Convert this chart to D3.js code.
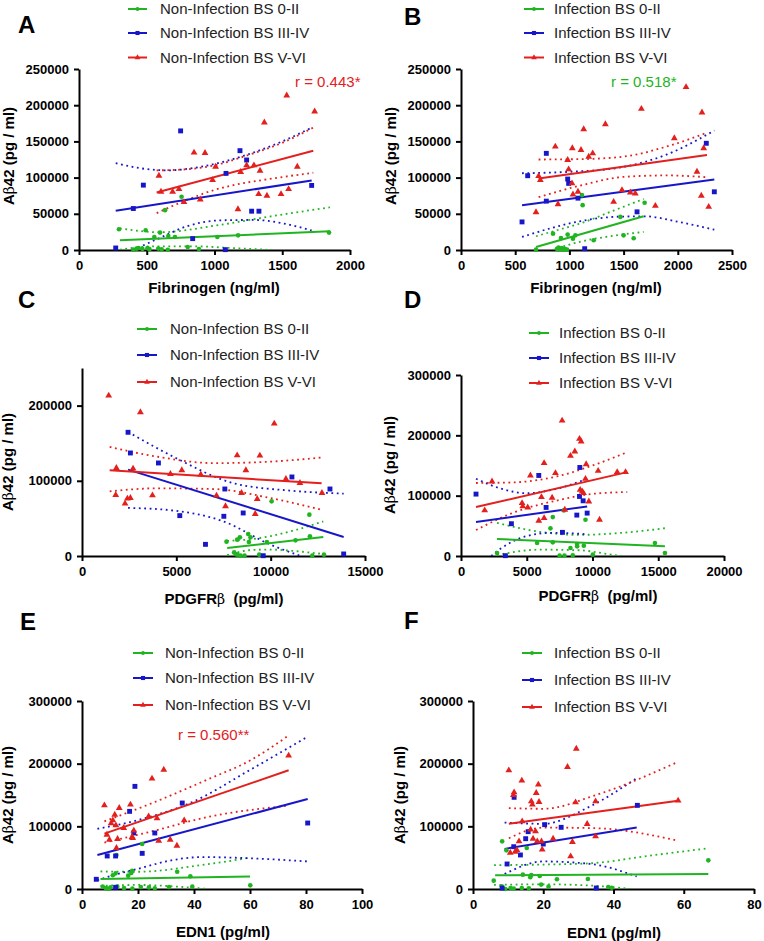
<!DOCTYPE html>
<html><head><meta charset="utf-8">
<script src="https://cdn.jsdelivr.net/npm/d3@7"></script>
<style>body{margin:0;background:#fff}svg{display:block}text{font-family:Arial,"Liberation Sans",sans-serif}</style>
</head><body><svg id="c" width="764" height="941"></svg>
<script>
// ---------------- DATA ----------------
const legendNonInf = ["Non-Infection BS 0-II","Non-Infection BS III-IV","Non-Infection BS V-VI"];
const legendInf = ["Infection BS 0-II","Infection BS III-IV","Infection BS V-VI"];
const yTicksA = [0,50000,100000,150000,200000,250000];
const yTicksC = [0,100000,200000];
const yTicks300 = [0,100000,200000,300000];
const xTicksA = [0,500,1000,1500,2000];
const xTicksB = [0,500,1000,1500,2000,2500];
const xTicksC = [0,5000,10000,15000];
const xTicksD = [0,5000,10000,15000,20000];
const xTicksE = [0,20,40,60,80,100];
const xTicksF = [0,20,40,60,80];

// Panel A
const A_green = [[295,28600],[492,27300],[598,24000],[556,18000],[635,55000],[757,73500],[659,19400],[708,18000],[1021,18000],[1174,20300],[1845,24000],[401,500],[425,1800],[440,2700],[468,1500],[505,2500],[520,1200],[585,2000],[610,800],[655,300],[802,4100],[885,1400]];
const A_blue = [[271,2800],[401,57300],[475,89600],[750,164500],[839,15700],[1085,105800],[1080,500],[1188,137200],[1237,124300],[1274,53600],[1328,53600],[1717,89200]];
const A_red = [[590,102600],[605,80400],[691,80400],[738,84100],[775,66100],[849,134500],[930,134000],[895,69800],[986,96600],[1008,115000],[1173,56400],[1193,107700],[1237,116900],[1291,116900],[1326,77200],[1336,109500],[1368,176100],[1387,74900],[1491,77200],[1533,213500],[1547,84100],[1611,115100],[1739,191300]];
const A_fit = {green:[[302,13400],[1852,25900]], blue:[[271,54100],[1717,96100]], red:[[573,79500],[1729,137200]]};
const A_upper = {green:[[302,30000],[600,24500],[1000,33500],[1400,46000],[1852,59000]],
  blue:[[271,120000],[450,113000],[650,110000],[900,115000],[1262,133000],[1500,150000],[1717,169000]],
  red:[[573,110000],[800,111500],[1000,117000],[1262,132000],[1500,148000],[1729,169000]]};
const A_lower = {green:[[302,500],[550,5000],[850,5000],[1150,2500],[1420,0]],
  blue:[[400,0],[600,17000],[800,33000],[1050,41000],[1300,41500],[1500,37000],[1717,27000]],
  red:[[573,51000],[795,69000],[1000,83000],[1139,89600],[1385,97500],[1729,106700]]};

// Panel B
const B_green = [[692,500],[849,22600],[886,1500],[900,3500],[915,800],[930,2500],[945,500],[960,1200],[978,600],[922,16600],[984,21300],[1055,20300],[1033,15700],[1116,75800],[1122,61900],[1224,13400],[1470,45700],[1500,20300],[1593,16200],[1694,65200]];
const B_blue = [[563,38800],[615,102600],[787,133500],[787,67500],[984,98000],[993,92000],[1079,71600],[1141,1800],[1624,52700],[2263,147400],[2337,80400]];
const B_red = [[692,52200],[716,102100],[732,96600],[870,142800],[895,63300],[984,124300],[993,111400],[1024,92000],[1027,140500],[1033,76700],[1079,80400],[1107,138200],[1132,166800],[1178,128900],[1215,133500],[1332,173700],[1408,66500],[1485,82700],[1562,79500],[1608,78100],[1664,195000],[1793,61000],[1968,154300],[2076,225000],[2177,108100],[2217,74900],[2223,189900],[2239,140500],[2285,59600]];
const B_fit = {green:[[692,4200],[1685,46700]], blue:[[563,61900],[2337,97500]], red:[[716,98900],[2269,131200]]};
const B_upper = {green:[[692,19000],[900,28000],[1116,37500],[1400,54000],[1685,70500]],
  blue:[[563,106000],[1000,108000],[1450,113500],[1900,132000],[2337,165000]],
  red:[[716,125000],[1100,125500],[1500,129000],[1900,143000],[2269,162000]]};
const B_lower = {green:[[850,0],[1000,7500],[1116,12000],[1400,19500],[1685,25000]],
  blue:[[563,18000],[850,31000],[1144,41000],[1450,46000],[1700,46500],[2000,39000],[2337,28000]],
  red:[[716,73000],[1100,89000],[1500,101000],[1900,103000],[2269,100500]]};

// Panel C
const C_green = [[7660,19100],[8225,21700],[8367,24800],[8810,29300],[8933,24800],[8845,18600],[9800,18600],[10050,72700],[11320,20800],[12050,55000],[12080,26200],[8066,4900],[8243,1800],[8403,400],[8615,400],[9393,1800],[12206,400],[12825,1800],[8150,2500]];
const C_blue = [[2441,164500],[2565,137000],[4051,123700],[5183,53700],[6545,15500],[7571,89100],[7518,52800],[8544,57200],[9606,400],[11127,105100],[13143,89100],[13869,2700]];
const C_red = [[1415,213300],[1787,81200],[1822,117100],[2282,69600],[2406,76300],[2565,77200],[2707,116200],[3096,191100],[3733,80700],[4688,109100],[5289,114000],[6297,108200],[7129,80300],[7607,66100],[8225,133900],[8456,83800],[8686,114000],[9287,75800],[9429,133500],[9181,55900],[10190,176100],[10808,102400],[11551,97100],[12719,83800]];
const C_fit = {green:[[7695,10600],[12790,25300]], blue:[[2441,114900],[13869,25300]], red:[[1468,114000],[12701,96700]]};
const C_upper = {green:[[7695,20000],[9000,22500],[10000,26500],[11300,34500],[12790,46000]],
  blue:[[2441,165000],[5000,130000],[8000,97000],[11000,87000],[13869,83000]],
  red:[[1468,145000],[4000,132000],[7000,123500],[10000,125500],[12701,131000]]};
const C_lower = {green:[[7695,1000],[9000,8000],[10000,8500],[11300,6500],[12790,2500]],
  blue:[[2441,64000],[5000,60000],[7500,46000],[10000,15000],[11600,0]],
  red:[[1468,86000],[4000,90000],[7000,89000],[10000,77000],[12701,61500]]};

// Panel D
const D_green = [[2741,5000],[5787,21500],[6802,45800],[6980,64500],[6980,22600],[7817,75600],[7500,500],[7868,500],[8500,1000],[8325,13200],[8832,19900],[8832,16000],[9340,17100],[9467,60100],[10025,2200],[14746,21500],[15508,5000]];
const D_blue = [[1142,102600],[3376,550],[3832,53500],[5914,133500],[6472,80500],[7716,39200],[8807,67800],[9010,98700],[9036,146700],[9289,91500],[9594,71100]];
const D_red = [[1802,75600],[2360,123500],[4645,87700],[4695,82200],[5076,80500],[5279,133500],[5914,58500],[6117,97600],[6320,153900],[6320,62900],[6929,96500],[7183,137300],[7690,224500],[7893,76700],[8325,166000],[8655,173200],[9010,194100],[9137,189700],[9061,109700],[9213,107000],[9315,104200],[9467,127900],[9518,152200],[9721,90400],[10431,141200],[10533,60100],[11878,139000],[12513,139000]];
const D_fit = {green:[[2741,28100],[15508,16000]], blue:[[1142,56300],[9594,82200]], red:[[1142,81100],[12640,139000]]};
const D_upper = {green:[[2741,55000],[6000,40000],[9000,35000],[12000,38000],[15508,46000]],
  blue:[[1142,128000],[3000,112000],[5000,104000],[7000,110000],[9594,128000]],
  red:[[1142,121000],[4000,122000],[7500,133000],[10000,150000],[12640,172000]]};
const D_lower = {green:[[2741,1500],[6000,10500],[9000,9500],[11500,2000],[12200,0]],
  blue:[[2300,0],[3000,12000],[5000,33000],[7000,38500],[9594,36000]],
  red:[[1142,43000],[4000,72000],[7500,93000],[10000,103000],[12640,106000]]};

// Panel E
const E_green = [[7.4,3700],[8.5,1500],[9.5,500],[10.2,2500],[12.6,3700],[15,1500],[18,500],[21,3000],[23.9,2500],[26,1000],[31.1,3000],[39.4,3700],[11,22000],[12,25000],[16.5,21300],[17.6,25500],[17.9,29200],[12.3,54300],[21.5,71800],[34,27600],[38.7,20200],[60.1,5900]];
const E_blue = [[5.1,15500],[9,52700],[12,52700],[12,2700],[17,123900],[18.5,89400],[18.9,163800],[21.5,56900],[26,89400],[35.8,137200],[80.6,105300]];
const E_red = [[8,133500],[8.9,86700],[9.8,78700],[10.4,104800],[11,109600],[11.7,118600],[12.1,101600],[12.3,65400],[12.7,79800],[13.3,129300],[14.9,97300],[17.3,134600],[17.9,83000],[18.1,81400],[18.5,93100],[23.8,116000],[25,176100],[26.8,112800],[27.4,77100],[29.2,190400],[31.5,78700],[33.9,69100],[36.5,109600],[73.8,212800]];
const E_fit = {green:[[6.6,16000],[60,20000]], blue:[[5.5,54300],[80.6,143500]], red:[[8,88300],[73.8,189400]]};
const E_upper = {green:[[6.6,28000],[20,27500],[43,38300],[60,50000]],
  blue:[[5.5,96000],[20,110000],[40,140000],[60,190000],[80.6,243000]],
  red:[[8,108000],[25,137000],[45,175000],[60,205000],[73.8,245000]]};
const E_lower = {green:[[6.6,5000],[20,6500],[35,3500],[45,0]],
  blue:[[5.5,14000],[11.4,22300],[21.5,34000],[30,44000],[43,51000],[60,49000],[80.6,44000]],
  red:[[8,74000],[25,92000],[45,115000],[73.8,133000]]};

// Panel F
const F_green = [[5.9,13300],[8.2,4300],[8.3,76100],[9.5,61700],[9.2,0],[10.7,1600],[11.6,800],[13.9,1500],[14.2,22900],[15.3,65400],[15.9,1000],[16.3,18700],[16.6,22300],[19,20700],[19.4,7000],[21.5,3700],[23.9,15500],[32.7,16000],[38.5,3200],[39.5,2000],[67,45700]];
const F_blue = [[8.3,1500],[9.7,39900],[11.7,146300],[11.6,67500],[13.5,54300],[15,80300],[15.7,91500],[20,71800],[20.4,102700],[25.1,98400],[35.1,1600],[46.8,133500]];
const F_red = [[10.2,189400],[11.5,150000],[11.7,154300],[10.6,57900],[12,59500],[12.5,62000],[13.1,76100],[13.9,172900],[14,108000],[16.4,94700],[16.6,139900],[16.9,134600],[17.1,80300],[17.8,92000],[18.3,76100],[18.6,166500],[18.8,138800],[19.5,76100],[19.7,62800],[18,153200],[22.8,80300],[26.9,194700],[27.8,52100],[28.3,75000],[29.2,138300],[29.4,223900],[32.5,103700],[34.9,84000],[34.9,139900],[58.4,141000]];
const F_fit = {green:[[6.3,22000],[67,24000]], blue:[[9,64000],[46.6,98000]], red:[[10.2,104300],[58.4,141000]]};
const F_upper = {green:[[6,38000],[20,39000],[33.4,41000],[50,53000],[67,65000]],
  blue:[[9,106000],[20,104000],[33.4,132000],[46.6,177000]],
  red:[[10.2,129000],[20,128000],[35,150000],[58.4,203000]]};
const F_lower = {green:[[6,6500],[20,7500],[33.4,5500],[45,0]],
  blue:[[9,24000],[20,44000],[33.4,40000],[46.6,20000]],
  red:[[10.2,81000],[20,98000],[35,97000],[58.4,77000]]};

// ---------------- LAYOUT ----------------
const COLORS = {green:"#20b520", blue:"#1717c9", red:"#e3201d"};
const SERIES = ["green","blue","red"];
const SYMBOLS = {green:d3.symbolCircle, blue:d3.symbolSquare, red:d3.symbolTriangle};
const SIZES = {green:17, blue:24, red:20};

const panels = [
 {id:"A", letter:[18,33], xr:[79,350], yr:[250,69], xd:[0,2000], yd:[0,250000], xt:xTicksA, yt:yTicksA,
  pts:{green:A_green,blue:A_blue,red:A_red}, fit:A_fit, up:A_upper, lo:A_lower, legend:legendNonInf,
  leg:{x0:128,x1:147,tx:160,rows:[9,33,57.5]}, xtitle:["Fibrinogen (ng/ml)",null], xtpos:[214,293], ytpos:[14,156],
  r:{text:"r = 0.443*",x:295,y:87,c:"red"}},
 {id:"B", letter:[404,25], xr:[461,732], yr:[250,69], xd:[0,2500], yd:[0,250000], xt:xTicksB, yt:yTicksA,
  pts:{green:B_green,blue:B_blue,red:B_red}, fit:B_fit, up:B_upper, lo:B_lower, legend:legendInf,
  leg:{x0:524,x1:544,tx:554,rows:[9,33,57.5]}, xtitle:["Fibrinogen (ng/ml)",null], xtpos:[596,293], ytpos:[396,156],
  r:{text:"r = 0.518*",x:611,y:87,c:"green"}},
 {id:"C", letter:[18,308], xr:[82,365], yr:[556,368], xd:[0,15000], yd:[0,250000], xt:xTicksC, yt:yTicksC,
  pts:{green:C_green,blue:C_blue,red:C_red}, fit:C_fit, up:C_upper, lo:C_lower, legend:legendNonInf,
  leg:{x0:137,x1:157,tx:170,rows:[329,355,382]}, xtitle:["PDGFR","  (pg/ml)"], xtpos:[224,604], ytpos:[13,462]},
 {id:"D", letter:[404,308], xr:[461,724], yr:[556,375], xd:[0,20000], yd:[0,300000], xt:xTicksD, yt:yTicks300,
  pts:{green:D_green,blue:D_blue,red:D_red}, fit:D_fit, up:D_upper, lo:D_lower, legend:legendInf,
  leg:{x0:529,x1:549,tx:559,rows:[333,358,383]}, xtitle:["PDGFR","  (pg/ml)"], xtpos:[598,601], ytpos:[395,465]},
 {id:"E", letter:[20,630], xr:[82,362], yr:[889,701], xd:[0,100], yd:[0,300000], xt:xTicksE, yt:yTicks300,
  pts:{green:E_green,blue:E_blue,red:E_red}, fit:E_fit, up:E_upper, lo:E_lower, legend:legendNonInf,
  leg:{x0:133,x1:153,tx:165,rows:[653,678,705]}, xtitle:["EDN1  (pg/ml)",null], xtpos:[223,937], ytpos:[13,795],
  r:{text:"r = 0.560**",x:178,y:740,c:"red"}},
 {id:"F", letter:[404,629], xr:[473,754], yr:[889,701], xd:[0,80], yd:[0,300000], xt:xTicksF, yt:yTicks300,
  pts:{green:F_green,blue:F_blue,red:F_red}, fit:F_fit, up:F_upper, lo:F_lower, legend:legendInf,
  leg:{x0:522,x1:542,tx:554,rows:[653,680,707]}, xtitle:["EDN1  (pg/ml)",null], xtpos:[614,938], ytpos:[405,795]}
];

const svg = d3.select("#c");
const defs = svg.append("defs");

panels.forEach(p => {
  const x = d3.scaleLinear().domain(p.xd).range(p.xr);
  const y = d3.scaleLinear().domain(p.yd).range(p.yr);
  const g = svg.append("g");

  g.append("text").attr("x",p.letter[0]).attr("y",p.letter[1]).attr("font-size",24).attr("font-weight","bold").text(p.id);

  const xa = g.append("g").attr("transform",`translate(0,${p.yr[0]})`)
    .call(d3.axisBottom(x).tickValues(p.xt).tickSize(5).tickSizeOuter(0).tickPadding(6).tickFormat(d3.format("d")));
  const ya = g.append("g").attr("transform",`translate(${p.xr[0]},0)`)
    .call(d3.axisLeft(y).tickValues(p.yt).tickSize(5).tickSizeOuter(0).tickPadding(5).tickFormat(d3.format("d")));
  [xa,ya].forEach(a=>{
    a.select(".domain").attr("stroke","#000").attr("stroke-width",2);
    a.selectAll(".tick line").attr("stroke","#000").attr("stroke-width",2);
    a.selectAll(".tick text").attr("font-size",13).attr("font-weight","bold").attr("fill","#000")
      .attr("font-family","Arial, 'Liberation Sans', sans-serif");
  });

  const xt = g.append("text").attr("x",p.xtpos[0]).attr("y",p.xtpos[1]).attr("text-anchor","middle")
    .attr("font-size",15).attr("font-weight","bold");
  if (p.xtitle[1] === null) xt.text(p.xtitle[0]);
  else { xt.append("tspan").text(p.xtitle[0]); xt.append("tspan").attr("font-weight","normal").attr("font-family","'DejaVu Serif',serif").attr("font-size",14).text("β"); xt.append("tspan").attr("xml:space","preserve").text(p.xtitle[1]); }
  const yt = g.append("text").attr("transform",`translate(${p.ytpos[0]},${p.ytpos[1]}) rotate(-90)`)
    .attr("text-anchor","middle").attr("font-size",15).attr("font-weight","bold");
  yt.append("tspan").text("A");
  yt.append("tspan").attr("font-weight","normal").attr("font-family","'DejaVu Serif',serif").attr("font-size",14).text("β");
  yt.append("tspan").text("42 (pg / ml)");

  const cid = "clip"+p.id;
  defs.append("clipPath").attr("id",cid).append("rect")
    .attr("x",p.xr[0]).attr("y",p.yr[1]-5).attr("width",p.xr[1]-p.xr[0]+2).attr("height",p.yr[0]-p.yr[1]+5);
  const plot = g.append("g").attr("clip-path",`url(#${cid})`);
  const curve = d3.line().x(d=>x(d[0])).y(d=>y(d[1])).curve(d3.curveMonotoneX);
  const straight = d3.line().x(d=>x(d[0])).y(d=>y(d[1]));

  SERIES.forEach(s=>{
    [p.up[s],p.lo[s]].forEach(band=>{
      plot.append("path").attr("d",curve(band)).attr("fill","none").attr("stroke",COLORS[s])
        .attr("stroke-width",1.8).attr("stroke-dasharray","1.8,3.6");
    });
  });
  SERIES.forEach(s=>{
    plot.append("path").attr("d",straight(p.fit[s])).attr("fill","none").attr("stroke",COLORS[s]).attr("stroke-width",2);
  });
  SERIES.forEach(s=>{
    g.append("g").selectAll("path").data(p.pts[s]).join("path")
      .attr("d",d3.symbol().type(SYMBOLS[s]).size(SIZES[s]))
      .attr("transform",d=>`translate(${x(d[0])},${y(d[1])})`)
      .attr("fill",COLORS[s]);
  });

  SERIES.forEach((s,i)=>{
    const ry = p.leg.rows[i];
    g.append("line").attr("x1",p.leg.x0).attr("x2",p.leg.x1).attr("y1",ry).attr("y2",ry)
      .attr("stroke",COLORS[s]).attr("stroke-width",2);
    g.append("path").attr("d",d3.symbol().type(SYMBOLS[s]).size(SIZES[s]*0.7)())
      .attr("transform",`translate(${(p.leg.x0+p.leg.x1)/2},${ry})`).attr("fill",COLORS[s]);
    g.append("text").attr("x",p.leg.tx).attr("y",ry).attr("dy","0.36em").attr("font-size",15)
      .attr("fill","#222").text(p.legend[i]);
  });

  if (p.r) {
    g.append("text").attr("x",p.r.x).attr("y",p.r.y).attr("font-size",15).attr("fill",COLORS[p.r.c]).text(p.r.text);
  }
});
</script></body></html>
